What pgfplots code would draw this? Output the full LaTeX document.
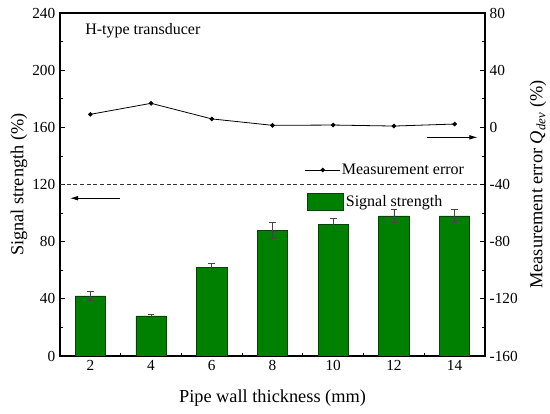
\documentclass[border=0pt]{standalone}
\usepackage{pgfplots}
\pgfplotsset{compat=1.18}
\usepackage{fontspec}
\setmainfont{Liberation Serif}
\usetikzlibrary{arrows.meta}
\definecolor{barfill}{RGB}{0,128,0}
\definecolor{bardraw}{RGB}{0,70,0}
\definecolor{errc}{RGB}{70,70,70}
\begin{document}
\begin{tikzpicture}
\pgfplotsset{
  common/.style={
    width=318.75pt, height=257.25pt, scale only axis,
    at={(0,0)}, anchor=south west,
    xmin=1, xmax=15,
    tick align=inside,
    major tick length=3.5pt, minor tick length=2pt,
    axis line style={line width=0.8pt},
    every tick/.style={black, line width=0.6pt},
    /pgf/number format/assume math mode=true,
    tick label style={font=\fontsize{11.5pt}{13pt}\selectfont},
  }
}
\begin{axis}[common,
  ymin=0, ymax=240, ytick={0,40,...,240}, minor ytick={20,60,...,220},
  xtick={2,4,...,14}, minor xtick={3,5,...,13},
  ytick pos=left, xtick pos=bottom,
  xlabel={Pipe wall thickness (mm)},
  ylabel={Signal strength (\%)},
  every axis y label/.style={at={(axis description cs:-0.0965,0.5)}, rotate=90, anchor=center, font=\fontsize{13.75pt}{16pt}\selectfont},
  every axis x label/.style={at={(axis description cs:0.5,-0.122)}, anchor=center, font=\fontsize{13.75pt}{16pt}\selectfont},
  legend image code/.code={\draw[fill=barfill, draw=bardraw, line width=0.5pt] (0pt,-6.4pt) rectangle (27pt,6.4pt);},
  legend style={at={(axis description cs:0.581,0.4504)}, anchor=west, draw=none, fill=none,
    inner sep=0pt, font=\fontsize{12pt}{14pt}\selectfont,
    nodes={inner sep=1.5pt}},
]
\addplot[ybar, bar width=1, bar shift=0pt, fill=barfill, draw=bardraw, line width=0.5pt,
  error bars/.cd, y dir=both, y explicit,
  error bar style={errc, line width=0.5pt},
  error mark options={rotate=90, mark size=2.5pt, errc, line width=0.5pt}]
  coordinates {
  (2,42) +- (0,3)
  (4,28) +- (0,1)
  (6,62) +- (0,3)
  (8,88) +- (0,5.5)
  (10,92) +- (0,4.5)
  (12,98) +- (0,4.5)
  (14,98) +- (0,4.5)
  };
\addlegendentry{Signal strength}
\draw[dash pattern=on 3pt off 2pt, line width=0.6pt, black!80] (axis cs:1,120) -- (axis cs:15,120);
\draw[-{Latex[length=6pt,width=3.5pt]}, line width=0.6pt] (axis cs:2.97,110.4) -- (axis cs:1.33,110.4);
\node[anchor=west, font=\fontsize{12pt}{14pt}\selectfont, inner sep=0pt] at (axis description cs:0.0588,0.9475) {H-type transducer};
\end{axis}
\begin{axis}[common,
  axis x line=none, axis y line*=right,
  ymin=-160, ymax=80, ytick={-160,-120,...,80}, minor ytick={-140,-100,...,60},
  ylabel={Measurement error \textit{Q}\textsubscript{\textit{dev}} (\%)},
  every axis y label/.style={at={(axis description cs:1.1247,0.5)}, rotate=90, anchor=center, font=\fontsize{13.75pt}{16pt}\selectfont},
  legend image code/.code={\draw[mark repeat=2,mark phase=2,#1] plot coordinates {(0pt,0pt)(13pt,0pt)(26pt,0pt)};},
  legend style={at={(axis description cs:0.576,0.5423)}, anchor=west, draw=none, fill=none,
    inner sep=0pt, font=\fontsize{12pt}{14pt}\selectfont,
    nodes={inner sep=1pt}},
]
\addplot[black, line width=0.6pt, mark=*, mark size=1.4pt] coordinates {
  (2,9.1) (4,16.8) (6,5.9) (8,1.4) (10,1.6) (12,0.9) (14,2.3)
};
\addlegendentry{Measurement error}
\draw[-{Latex[length=6pt,width=3.5pt]}, line width=0.6pt] (axis cs:13.1,-7) -- (axis cs:14.75,-7);
\end{axis}
\pgfresetboundingbox
\useasboundingbox (-45pt,-43.5pt) rectangle (367.5pt,267pt);
\end{tikzpicture}
\end{document}
